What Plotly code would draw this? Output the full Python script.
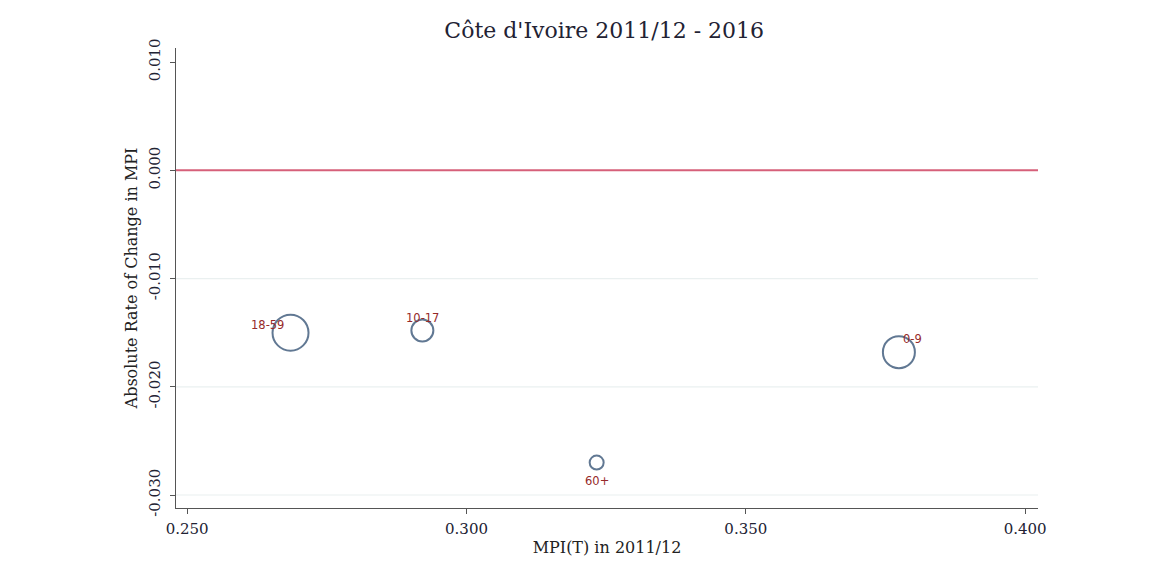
import plotly.graph_objects as go

# Data
groups = ["18-59", "10-17", "60+", "0-9"]
mpi_2011 = [0.2685, 0.2921, 0.3233, 0.3774]
abs_change = [-0.0150, -0.0148, -0.0270, -0.0168]
weights = [36, 22, 14, 32]  # relative bubble weights
x_ticks = [0.25, 0.30, 0.35, 0.40]
x_ticklabels = ["0.250", "0.300", "0.350", "0.400"]
y_ticks = [0.01, 0.0, -0.01, -0.02, -0.03]
y_ticklabels = ["0.010", "0.000", "-0.010", "-0.020", "-0.030"]
grid_values = [-0.01, -0.02, -0.03]

# label offsets (pixel shifts, Stata clock-like positions)
label_shift = {"18-59": (-23, 8), "10-17": (0, 12), "60+": (0, -18), "0-9": (14, 13)}

serif = "DejaVu Serif"

fig = go.Figure()

for gv in grid_values:
    fig.add_shape(type="line", xref="paper", yref="y", x0=0, x1=1, y0=gv, y1=gv,
                  line=dict(color="#eaf0f0", width=1.2), layer="below")

fig.add_trace(go.Scatter(
    x=mpi_2011, y=abs_change, mode="markers",
    marker=dict(size=weights, color="rgba(0,0,0,0)",
                line=dict(color="#1f4066", width=2)),
    showlegend=False, hoverinfo="text", text=groups,
))

fig.add_shape(type="line", xref="paper", yref="y", x0=0, x1=1, y0=0, y1=0,
              line=dict(color="#d6607a", width=2))

for g, xv, yv in zip(groups, mpi_2011, abs_change):
    dx, dy = label_shift[g]
    fig.add_annotation(x=xv, y=yv, text=g, showarrow=False,
                       xshift=dx, yshift=dy,
                       font=dict(family="DejaVu Sans", size=11.5, color="#962a2a"))

fig.update_layout(
    width=1151, height=575,
    paper_bgcolor="white", plot_bgcolor="white",
    margin=dict(l=168, r=121, t=40, b=75),
    title=dict(text="Côte d'Ivoire 2011/12 - 2016", x=0.518, xanchor="center",
               y=0.962, yanchor="middle",
               font=dict(family=serif, size=22, color="#222233")),
    font=dict(family=serif, color="#222222"),
)
fig.update_xaxes(
    range=[0.248, 0.4023], tickvals=x_ticks, ticktext=x_ticklabels,
    showgrid=False, zeroline=False, showline=True, linecolor="#555555", linewidth=1.2,
    ticks="outside", ticklen=5, tickcolor="#555555", ticklabelstandoff=2,
    tickfont=dict(family=serif, size=15, color="#222233"),
    title=dict(text="MPI(T) in 2011/12", font=dict(family=serif, size=16, color="#222222"), standoff=4),
)
fig.update_yaxes(
    range=[-0.0312, 0.0113], tickvals=y_ticks, ticktext=y_ticklabels,
    showgrid=False,
    zeroline=False, showline=True, linecolor="#555555", linewidth=1.2,
    ticks="outside", ticklen=5, tickcolor="#555555", tickangle=-90, ticklabelstandoff=4,
    tickfont=dict(family=serif, size=15, color="#222233"),
    title=dict(text="Absolute Rate of Change in MPI", font=dict(family=serif, size=16, color="#222222"), standoff=4),
)

fig.write_html("out.html")
